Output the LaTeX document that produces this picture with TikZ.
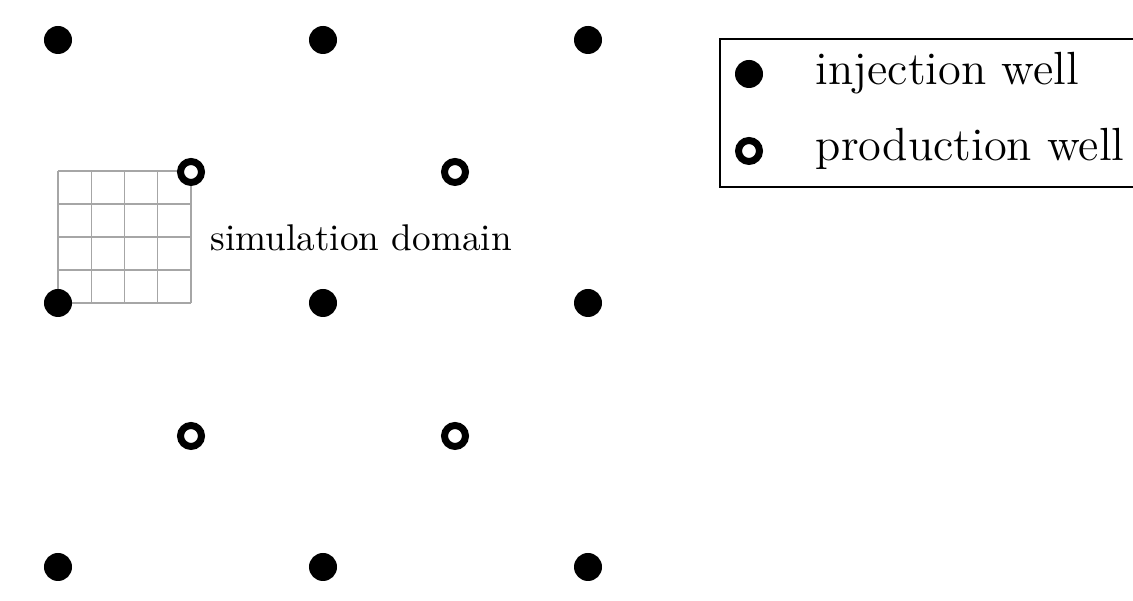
\documentclass[tikz,border=0pt]{standalone}
\begin{document}
\begin{tikzpicture}[x=0.2688pt, y=-0.2688pt,
  injwell/.style={circle, fill=black, inner sep=0pt, minimum size=7.53pt},
  prodwell/.style={circle, draw=black, line width=1.88pt, fill=white, inner sep=0pt, minimum size=5.64pt},
  gridline/.style={draw=black!35, line width=0.3pt},
  legendtext/.style={anchor=base west, inner sep=0pt, font=\fontsize{12.5}{15}\selectfont},
  boxline/.style={draw=black, line width=0.45pt}]
  \useasboundingbox (0,0) rectangle (1133,601);

  % simulation domain: 4x4 grid between an injection and a production well
  \foreach \k in {0,...,4} {
    \draw[gridline] ({58+33.25*\k},171) -- ({58+33.25*\k},303);
    \draw[gridline] (58,{171+33*\k}) -- (191,{171+33*\k});
  }
  \node[anchor=base west, inner sep=0pt] (domain) at (210,251) {simulation domain};

  % injection wells on a regular lattice
  \foreach \i/\x in {1/58, 2/323, 3/588}
    \foreach \j/\y in {1/40, 2/303, 3/567}
      \node[injwell] (inj-\i-\j) at (\x,\y) {};

  % production wells at the cell centres
  \foreach \i/\x in {1/191, 2/455}
    \foreach \j/\y in {1/172, 2/436}
      \node[prodwell] (prod-\i-\j) at (\x,\y) {};

  % legend
  \draw[boxline] (720,39) rectangle (1145,187);
  \node[injwell] (leg-inj) at (749,74) {};
  \node[prodwell] (leg-prod) at (749,151) {};
  \node[legendtext] (leg-inj-text) at (815,85) {injection well};
  \node[legendtext] (leg-prod-text) at (815,161) {production well};
\end{tikzpicture}
\end{document}
